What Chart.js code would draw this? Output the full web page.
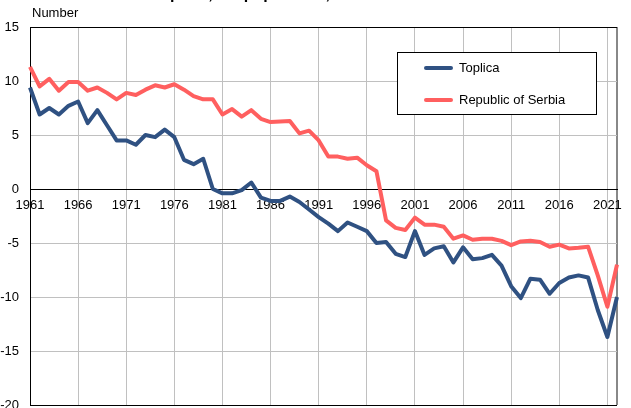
<!DOCTYPE html>
<html>
<head>
<meta charset="utf-8">
<script src="https://cdn.jsdelivr.net/npm/chart.js@4/dist/chart.umd.min.js"></script>
<style>
  html, body { margin: 0; padding: 0; background: #fff; }
  canvas { display: block; }
</style>
</head>
<body>
<canvas id="chart_natural" width="631" height="408"></canvas>
<script>
const years = [
  "1961", "1962", "1963", "1964", "1965", "1966", "1967", "1968", "1969", "1970",
  "1971", "1972", "1973", "1974", "1975", "1976", "1977", "1978", "1979", "1980",
  "1981", "1982", "1983", "1984", "1985", "1986", "1987", "1988", "1989", "1990",
  "1991", "1992", "1993", "1994", "1995", "1996", "1997", "1998", "1999", "2000",
  "2001", "2002", "2003", "2004", "2005", "2006", "2007", "2008", "2009", "2010",
  "2011", "2012", "2013", "2014", "2015", "2016", "2017", "2018", "2019", "2020",
  "2021", "2022",
];

const toplica = [
  9.4, 6.9, 7.5, 6.9, 7.7, 8.1, 6.1, 7.3, 5.9, 4.5,
  4.5, 4.1, 5.0, 4.8, 5.5, 4.8, 2.7, 2.3, 2.8, 0.0,
  -0.4, -0.4, -0.1, 0.6, -0.8, -1.1, -1.1, -0.7, -1.2, -1.9,
  -2.6, -3.2, -3.9, -3.1, -3.5, -3.9, -5.0, -4.9, -6.0, -6.3,
  -3.9, -6.1, -5.5, -5.3, -6.8, -5.4, -6.5, -6.4, -6.1, -7.1,
  -9.0, -10.1, -8.3, -8.4, -9.7, -8.7, -8.2, -8.0, -8.2, -11.2,
  -13.7, -10.0,
];

const serbia = [
  11.3, 9.5, 10.2, 9.1, 9.9, 9.9, 9.1, 9.4, 8.9, 8.3,
  8.9, 8.7, 9.2, 9.6, 9.4, 9.7, 9.2, 8.6, 8.3, 8.3,
  6.9, 7.4, 6.7, 7.3, 6.5, 6.2, 6.25, 6.3, 5.15, 5.4,
  4.5, 3.0, 3.0, 2.8, 2.9, 2.2, 1.65, -2.9, -3.6, -3.8,
  -2.65, -3.3, -3.3, -3.5, -4.6, -4.3, -4.7, -4.6, -4.6, -4.8,
  -5.2, -4.85, -4.8, -4.9, -5.35, -5.15, -5.5, -5.45, -5.35, -8.0,
  -10.9, -7.0,
];

const seriesNames = ["Toplica", "Republic of Serbia"];
const seriesColors = ["#2f5182", "#ff5f5f"];

const FONT = "'Liberation Sans', Arial, sans-serif";

// stop the scales from pushing the plot area in for their labels
function noPadding(scale) {
  scale.paddingTop = 0;
  scale.paddingBottom = 0;
  scale.paddingLeft = 0;
  scale.paddingRight = 0;
}

// legend box + axis caption + the heading that is cut off at the top
const extrasPlugin = {
  id: "extras",
  afterDraw(chart) {
    const ctx = chart.ctx;
    ctx.save();

    ctx.fillStyle = "#000";
    ctx.font = "bold 16px " + FONT;
    ctx.textAlign = "left";
    ctx.textBaseline = "alphabetic";
    ctx.fillText("Natural increase per 1,000 population, 1961–2022", 41, -1);

    ctx.font = "13px " + FONT;
    ctx.textBaseline = "middle";
    ctx.fillText("Number", 32, 13);

    ctx.fillStyle = "#fff";
    ctx.fillRect(397.5, 52.5, 199, 62);
    ctx.strokeStyle = "#000";
    ctx.lineWidth = 1;
    ctx.strokeRect(397.5, 52.5, 199, 62);

    chart.data.datasets.forEach((ds, i) => {
      const y = 68 + i * 32;
      ctx.strokeStyle = ds.borderColor;
      ctx.lineWidth = 4;
      ctx.lineCap = "round";
      ctx.beginPath();
      ctx.moveTo(426, y);
      ctx.lineTo(451, y);
      ctx.stroke();
      ctx.fillStyle = "#000";
      ctx.fillText(ds.label, 459, y);
    });
    ctx.restore();
  },
};

new Chart(document.getElementById("chart_natural"), {
  type: "line",
  data: {
    labels: years,
    datasets: [
      {
        label: seriesNames[0],
        data: toplica,
        borderColor: seriesColors[0],
        backgroundColor: seriesColors[0],
        borderWidth: 4,
        pointRadius: 0,
        tension: 0,
        borderJoinStyle: "round",
      },
      {
        label: seriesNames[1],
        data: serbia,
        borderColor: seriesColors[1],
        backgroundColor: seriesColors[1],
        borderWidth: 4,
        pointRadius: 0,
        tension: 0,
        borderJoinStyle: "round",
      },
    ],
  },
  options: {
    responsive: false,
    animation: false,
    layout: { padding: { top: 27, right: 14, bottom: 3, left: 0 } },
    plugins: {
      legend: { display: false },
      tooltip: { enabled: false },
    },
    scales: {
      x: {
        type: "category",
        position: { y: 0 },
        offset: false,
        afterFit(scale) {
          scale.height = 0;
          noPadding(scale);
        },
        border: { display: true, color: "#000", width: 1 },
        grid: {
          drawTicks: false,
          lineWidth: (c) => (c.index === years.length - 1 ? 2 : 1),
          color: (c) => {
            if (c.index === 0) return "#000";
            if (c.index === years.length - 1) return "#888";
            return c.index % 5 === 0 ? "#c0c0c0" : "rgba(0,0,0,0)";
          },
        },
        ticks: {
          autoSkip: false,
          maxRotation: 0,
          padding: 9,
          color: "#000",
          font: { family: FONT, size: 13 },
          callback: (v, i) => (i % 5 === 0 ? years[i] : ""),
        },
      },
      y: {
        min: -20,
        max: 15,
        afterFit(scale) {
          scale.width = 30;
          noPadding(scale);
        },
        border: { display: true, color: "#000", width: 1 },
        grid: {
          drawTicks: false,
          color: (c) =>
            c.tick && (c.tick.value === 15 || c.tick.value === -20 || c.tick.value === 0)
              ? "#000"
              : "#c0c0c0",
        },
        ticks: {
          stepSize: 5,
          padding: 11,
          color: "#000",
          font: { family: FONT, size: 13 },
        },
      },
    },
  },
  plugins: [extrasPlugin],
});
</script>
</body>
</html>
